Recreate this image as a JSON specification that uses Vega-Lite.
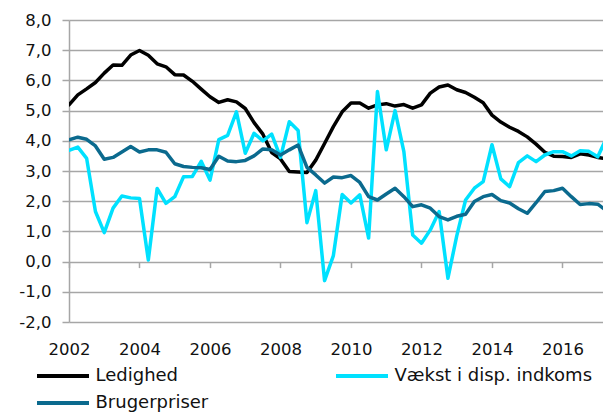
{
  "$schema": "https://vega.github.io/schema/vega-lite/v6.json",
  "autosize": {"type": "none"},
  "width": 534,
  "height": 302,
  "padding": {"left": 69, "top": 20, "right": 0, "bottom": 92},
  "background": "white",
  "config": {
    "locale": {"number": {"decimal": ",", "thousands": ".", "grouping": [3], "currency": ["", " kr."], "minus": "-"}},
    "view": {"stroke": null},
    "font": "DejaVu Sans"
  },
  "data": {
    "values": [
      {"t": 2002.00, "s1": 5.19, "s2": 3.68, "s3": 4.03},
      {"t": 2002.25, "s1": 5.52, "s2": 3.79, "s3": 4.12},
      {"t": 2002.50, "s1": 5.72, "s2": 3.42, "s3": 4.05},
      {"t": 2002.75, "s1": 5.93, "s2": 1.66, "s3": 3.83},
      {"t": 2003.00, "s1": 6.24, "s2": 0.96, "s3": 3.39},
      {"t": 2003.25, "s1": 6.51, "s2": 1.77, "s3": 3.45},
      {"t": 2003.50, "s1": 6.50, "s2": 2.17, "s3": 3.63},
      {"t": 2003.75, "s1": 6.84, "s2": 2.11, "s3": 3.81},
      {"t": 2004.00, "s1": 6.99, "s2": 2.09, "s3": 3.63},
      {"t": 2004.25, "s1": 6.83, "s2": 0.05, "s3": 3.70},
      {"t": 2004.50, "s1": 6.55, "s2": 2.42, "s3": 3.70},
      {"t": 2004.75, "s1": 6.45, "s2": 1.93, "s3": 3.62},
      {"t": 2005.00, "s1": 6.19, "s2": 2.15, "s3": 3.24},
      {"t": 2005.25, "s1": 6.18, "s2": 2.81, "s3": 3.15},
      {"t": 2005.50, "s1": 5.97, "s2": 2.82, "s3": 3.12},
      {"t": 2005.75, "s1": 5.71, "s2": 3.32, "s3": 3.11},
      {"t": 2006.00, "s1": 5.46, "s2": 2.70, "s3": 3.05},
      {"t": 2006.25, "s1": 5.27, "s2": 4.04, "s3": 3.49},
      {"t": 2006.50, "s1": 5.36, "s2": 4.18, "s3": 3.33},
      {"t": 2006.75, "s1": 5.29, "s2": 4.96, "s3": 3.31},
      {"t": 2007.00, "s1": 5.07, "s2": 3.59, "s3": 3.35},
      {"t": 2007.25, "s1": 4.60, "s2": 4.25, "s3": 3.50},
      {"t": 2007.50, "s1": 4.22, "s2": 4.00, "s3": 3.73},
      {"t": 2007.75, "s1": 3.61, "s2": 4.22, "s3": 3.70},
      {"t": 2008.00, "s1": 3.40, "s2": 3.45, "s3": 3.53},
      {"t": 2008.25, "s1": 2.98, "s2": 4.63, "s3": 3.70},
      {"t": 2008.50, "s1": 2.97, "s2": 4.34, "s3": 3.86},
      {"t": 2008.75, "s1": 2.95, "s2": 1.29, "s3": 3.12},
      {"t": 2009.00, "s1": 3.36, "s2": 2.35, "s3": 2.87},
      {"t": 2009.25, "s1": 3.91, "s2": -0.63, "s3": 2.60},
      {"t": 2009.50, "s1": 4.47, "s2": 0.20, "s3": 2.80},
      {"t": 2009.75, "s1": 4.96, "s2": 2.22, "s3": 2.78},
      {"t": 2010.00, "s1": 5.25, "s2": 1.94, "s3": 2.85},
      {"t": 2010.25, "s1": 5.25, "s2": 2.21, "s3": 2.62},
      {"t": 2010.50, "s1": 5.08, "s2": 0.78, "s3": 2.15},
      {"t": 2010.75, "s1": 5.19, "s2": 5.63, "s3": 2.04},
      {"t": 2011.00, "s1": 5.23, "s2": 3.70, "s3": 2.24},
      {"t": 2011.25, "s1": 5.15, "s2": 5.00, "s3": 2.43},
      {"t": 2011.50, "s1": 5.20, "s2": 3.64, "s3": 2.15},
      {"t": 2011.75, "s1": 5.08, "s2": 0.88, "s3": 1.82},
      {"t": 2012.00, "s1": 5.19, "s2": 0.61, "s3": 1.88},
      {"t": 2012.25, "s1": 5.58, "s2": 1.05, "s3": 1.77},
      {"t": 2012.50, "s1": 5.78, "s2": 1.66, "s3": 1.49},
      {"t": 2012.75, "s1": 5.85, "s2": -0.55, "s3": 1.38},
      {"t": 2013.00, "s1": 5.69, "s2": 0.85, "s3": 1.50},
      {"t": 2013.25, "s1": 5.60, "s2": 2.04, "s3": 1.57},
      {"t": 2013.50, "s1": 5.44, "s2": 2.43, "s3": 1.99},
      {"t": 2013.75, "s1": 5.26, "s2": 2.65, "s3": 2.15},
      {"t": 2014.00, "s1": 4.85, "s2": 3.87, "s3": 2.22},
      {"t": 2014.25, "s1": 4.62, "s2": 2.74, "s3": 2.02},
      {"t": 2014.50, "s1": 4.45, "s2": 2.48, "s3": 1.94},
      {"t": 2014.75, "s1": 4.31, "s2": 3.28, "s3": 1.75},
      {"t": 2015.00, "s1": 4.13, "s2": 3.50, "s3": 1.60},
      {"t": 2015.25, "s1": 3.89, "s2": 3.31, "s3": 1.95},
      {"t": 2015.50, "s1": 3.62, "s2": 3.53, "s3": 2.32},
      {"t": 2015.75, "s1": 3.49, "s2": 3.64, "s3": 2.35},
      {"t": 2016.00, "s1": 3.48, "s2": 3.64, "s3": 2.43},
      {"t": 2016.25, "s1": 3.45, "s2": 3.50, "s3": 2.15},
      {"t": 2016.50, "s1": 3.57, "s2": 3.67, "s3": 1.89},
      {"t": 2016.75, "s1": 3.53, "s2": 3.65, "s3": 1.92},
      {"t": 2017.00, "s1": 3.45, "s2": 3.47, "s3": 1.90},
      {"t": 2017.25, "s1": 3.40, "s2": 4.10, "s3": 1.68}
    ]
  },
  "transform": [{"fold": ["s1", "s2", "s3"], "as": ["serie", "v"]}],
  "mark": {"type": "line", "strokeWidth": 3.5, "strokeJoin": "round", "strokeCap": "round", "clip": true},
  "encoding": {
    "x": {
      "field": "t", "type": "quantitative",
      "scale": {"domain": [2002, 2017.149], "nice": false, "zero": false},
      "axis": {
        "title": null, "orient": "bottom", "offset": -60.4,
        "values": [2002, 2004, 2006, 2008, 2010, 2012, 2014, 2016],
        "format": "d", "domain": false, "grid": false,
        "ticks": true, "tickSize": 6, "tickColor": "#a6a6a6", "tickWidth": 1.5,
        "labelPadding": 74, "labelFont": "DejaVu Sans", "labelFontSize": 16.5,
        "labelColor": "#111111", "labelFlush": false, "labelOverlap": false
      }
    },
    "y": {
      "field": "v", "type": "quantitative",
      "scale": {"domain": [-2, 8], "nice": false},
      "axis": {
        "title": null, "values": [-2, -1, 0, 1, 2, 3, 4, 5, 6, 7, 8], "format": ".1f",
        "domain": true, "domainColor": "#a6a6a6", "domainWidth": 1.5,
        "grid": true, "gridColor": "#a6a6a6", "gridWidth": 1.5,
        "ticks": true, "tickSize": 7, "tickColor": "#a6a6a6", "tickWidth": 1.5,
        "labelPadding": 11, "labelFont": "DejaVu Sans", "labelFontSize": 16.5,
        "labelColor": "#111111", "labelFlush": false, "labelOverlap": false
      }
    },
    "color": {
      "field": "serie", "type": "nominal",
      "scale": {"domain": ["s1", "s2", "s3"], "range": ["#000000", "#00E1FF", "#0B6A8E"]},
      "legend": {
        "title": null, "orient": "none", "legendX": -34, "legendY": 341,
        "direction": "horizontal", "columns": 2, "columnPadding": 119, "rowPadding": 3,
        "symbolType": "M-1,0H3", "symbolSize": 676, "symbolStrokeWidth": 4,
        "labelOffset": 30.5, "labelFont": "DejaVu Sans", "labelFontSize": 18, "labelColor": "#111111",
        "labelLimit": 400,
        "labelExpr": "datum.label == 's1' ? 'Ledighed' : datum.label == 's2' ? 'Vækst i disp. indkoms' : 'Brugerpriser'"
      }
    }
  }
}
